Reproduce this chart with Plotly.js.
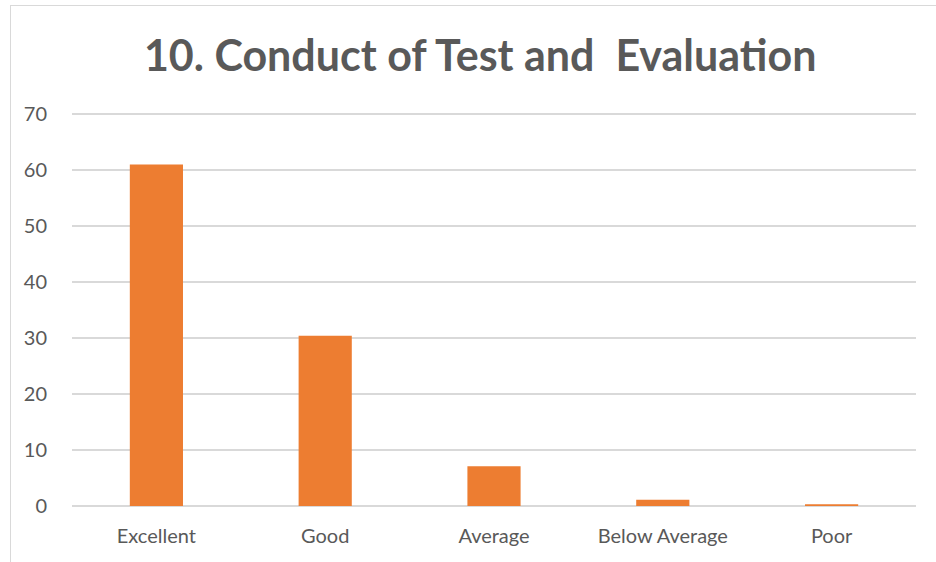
<!DOCTYPE html>
<html>
<head>
<meta charset="utf-8">
<script src="https://cdn.plot.ly/plotly-3.0.1.min.js"></script>
<style>
html,body{margin:0;padding:0;background:#fff;}
#frame{position:absolute;left:10px;top:5px;width:940px;height:570px;border:1px solid #d9d9d9;box-sizing:border-box;}
#chart{position:absolute;left:0;top:0;width:936px;height:562px;}
</style>
</head>
<body>
<div id="frame"></div>
<div id="chart"></div>
<script>
const categories = ["Excellent", "Good", "Average", "Below Average", "Poor"];
const values = [61, 30.4, 7.1, 1.1, 0.3];
const yTicks = [0, 10, 20, 30, 40, 50, 60, 70];

const trace = {
  type: "bar",
  x: categories,
  y: values,
  marker: {color: "#ED7D31"},
  hoverinfo: "x+y"
};

const layout = {
  width: 936,
  height: 562,
  paper_bgcolor: "rgba(0,0,0,0)",
  plot_bgcolor: "rgba(0,0,0,0)",
  margin: {l: 72, r: 20, t: 113, b: 56},
  bargap: 0.685,
  showlegend: false,
  font: {family: "Lato, 'Open Sans', sans-serif", color: "#595959"},
  title: {
    text: "<b>10. Conduct of Test and  Evaluation</b>",
    font: {family: "Lato, 'Open Sans', sans-serif", size: 43, color: "#595959"},
    x: 0.513, xanchor: "center",
    y: 1 - 56/562, yanchor: "middle", yref: "container"
  },
  xaxis: {
    type: "category",
    showgrid: false,
    showline: false,
    zeroline: false,
    ticks: "",
    tickfont: {size: 20, color: "#595959"},
    ticklabelstandoff: 16
  },
  yaxis: {
    range: [0, 70.2],
    tickvals: yTicks,
    ticktext: yTicks.map(String),
    showgrid: true,
    gridcolor: "#d9d9d9",
    gridwidth: 1.5,
    zeroline: true,
    zerolinecolor: "#d9d9d9",
    zerolinewidth: 1.5,
    showline: false,
    ticks: "",
    ticklabelstandoff: 24,
    tickfont: {size: 20, color: "#595959"}
  }
};

Plotly.newPlot("chart", [trace], layout, {displayModeBar: false, staticPlot: true});
</script>
</body>
</html>
